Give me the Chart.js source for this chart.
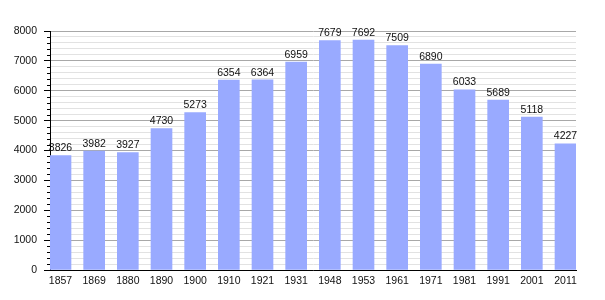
<!DOCTYPE html>
<html>
<head>
<meta charset="utf-8">
<script src="https://cdn.jsdelivr.net/npm/chart.js@4/dist/chart.umd.min.js"></script>
<style>
    html, body { margin: 0; padding: 0; background: #fff; }
    #wrap { width: 605px; height: 300px; }
</style>
</head>
<body>
<div id="wrap"><canvas id="popChart" width="605" height="300"></canvas></div>
<script>
// Population by census year
const years = ['1857', '1869', '1880', '1890', '1900', '1910', '1921', '1931',
               '1948', '1953', '1961', '1971', '1981', '1991', '2001', '2011'];
const population = [3826, 3982, 3927, 4730, 5273, 6354, 6364, 6959,
                    7679, 7692, 7509, 6890, 6033, 5689, 5118, 4227];
const yTicks = [0, 1000, 2000, 3000, 4000, 5000, 6000, 7000, 8000];

const FONT = { family: '"Liberation Sans", Arial, sans-serif', size: 10.5 };

/**
 * Value labels above each bar + short minor ticks on the y axis
 */
const decorPlugin = {
    id: 'decor',
    afterDatasetsDraw(chart) {
        const ctx = chart.ctx;
        const meta = chart.getDatasetMeta(0);
        ctx.save();
        ctx.font = FONT.size + 'px ' + FONT.family;
        ctx.fillStyle = '#111';
        ctx.textAlign = 'center';
        ctx.textBaseline = 'bottom';
        meta.data.forEach(function (bar, i) {
            ctx.fillText(String(population[i]), bar.x, bar.y - 2);
        });
        ctx.restore();
    },
    afterDraw(chart) {
        const y = chart.scales.y;
        const ctx = chart.ctx;
        ctx.save();
        ctx.strokeStyle = '#000';
        ctx.lineWidth = 1;
        y.ticks.forEach(function (t) {
            if (t.value % 1000 === 0) return;
            const py = Math.round(y.getPixelForValue(t.value)) + 0.5;
            ctx.beginPath();
            ctx.moveTo(y.right - 3, py);
            ctx.lineTo(y.right, py);
            ctx.stroke();
        });
        ctx.restore();
    }
};

const ctx = document.getElementById('popChart');
new Chart(ctx, {
    type: 'bar',
    data: {
        datasets: [{
            data: population.map((v, i) => ({ x: i, y: v })),
            backgroundColor: '#99aaff',
            borderWidth: 0,
            barThickness: 21
        }]
    },
    options: {
        responsive: false,
        animation: false,
        layout: {
            padding: { top: 31, right: 29, left: 0, bottom: 0 }
        },
        plugins: {
            legend: { display: false },
            tooltip: { enabled: false }
        },
        scales: {
            x: {
                type: 'linear',
                offset: false,
                min: -0.3119,
                max: 15.3119,
                afterBuildTicks: function (scale) {
                    scale.ticks = years.map((y, i) => ({ value: i }));
                },
                afterFit: function (scale) {
                    scale.height = 30;
                },
                grid: { display: false, drawTicks: false, offset: false },
                border: { display: true, color: '#000', width: 1 },
                ticks: {
                    color: '#111',
                    font: FONT,
                    padding: 5,
                    autoSkip: false,
                    maxRotation: 0,
                    callback: function (v) { return years[v]; }
                }
            },
            y: {
                min: 0,
                max: 8000,
                afterFit: function (scale) {
                    scale.width = 50;
                },
                ticks: {
                    stepSize: 200,
                    color: '#111',
                    font: FONT,
                    padding: 7,
                    autoSkip: false,
                    callback: function (v) {
                        return yTicks.includes(v) ? String(v) : '';
                    }
                },
                grid: {
                    color: function (c) {
                        return c.tick.value % 1000 === 0 ? '#a8a8a8' : '#e2e2e2';
                    },
                    tickColor: function (c) {
                        return c.tick.value % 1000 === 0 ? '#000' : 'rgba(0,0,0,0)';
                    },
                    tickLength: 6
                },
                border: { display: true, color: '#000', width: 1 }
            }
        }
    },
    plugins: [decorPlugin]
});
</script>
</body>
</html>
